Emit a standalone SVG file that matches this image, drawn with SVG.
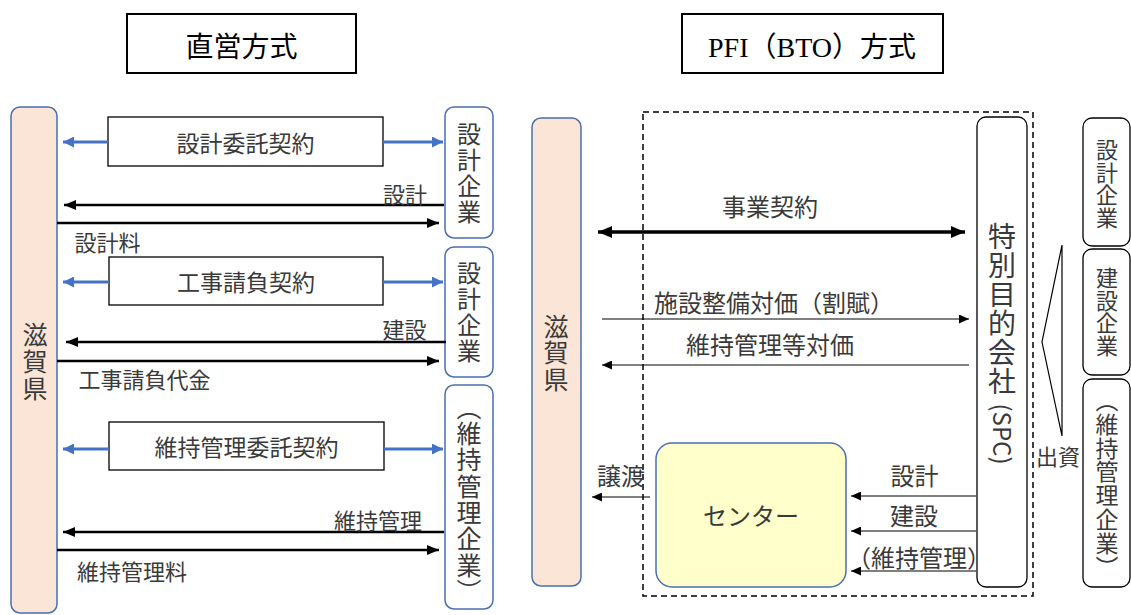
<svg xmlns="http://www.w3.org/2000/svg" width="1131" height="615" viewBox="0 0 1131 615">
<style>
text{font-family:"Noto Sans CJK JP","Noto Sans",sans-serif;fill:#3a3a3a;dominant-baseline:central}
.c{text-anchor:middle}
.v{writing-mode:vertical-rl;text-anchor:middle}
.title{font-family:"Liberation Serif","Noto Sans CJK JP",serif;font-size:28px;fill:#000;text-anchor:middle}
.tbox{fill:#fff;stroke:#000;stroke-width:2}
.pref{fill:#FBE5D6;stroke:#4A6FB0;stroke-width:1.5}
.bnode{fill:#fff;stroke:#4A6FB0;stroke-width:1.5}
.knode{fill:#fff;stroke:#000;stroke-width:1.3}
.cbox{fill:#fff;stroke:#000;stroke-width:1.3}
.center{fill:#FFFFCC;stroke:#4A6FB0;stroke-width:1.5}
.blue{stroke:#4472C4;stroke-width:3;fill:none}
.blk{stroke:#000;stroke-width:2.5;fill:none}
.thin{stroke:#000;stroke-width:1;fill:none}
.thick{stroke:#000;stroke-width:3.5;fill:none}
.dash{fill:none;stroke:#000;stroke-width:1.5;stroke-dasharray:6 4}
</style>
<defs>
<marker id="mB" markerUnits="userSpaceOnUse" markerWidth="11" markerHeight="11" refX="11" refY="5.5" orient="auto"><path d="M0,0 L11,5.5 L0,11 z" fill="#4472C4"/></marker>
<marker id="mK" markerUnits="userSpaceOnUse" markerWidth="12" markerHeight="10" refX="12" refY="5" orient="auto"><path d="M0,0 L12,5 L0,10 z" fill="#000"/></marker>
<marker id="mT" markerUnits="userSpaceOnUse" markerWidth="10" markerHeight="9" refX="10" refY="4.5" orient="auto"><path d="M0,0 L10,4.5 L0,9 z" fill="#000"/></marker>
<marker id="mH" markerUnits="userSpaceOnUse" markerWidth="14" markerHeight="12" refX="14" refY="6" orient="auto-start-reverse"><path d="M0,0 L14,6 L0,12 z" fill="#000"/></marker>
</defs>

<g id="title-direct"><rect class="tbox" x="127" y="14" width="229" height="59"/><text class="title" x="241.5" y="47">直営方式</text></g>
<g id="title-pfi"><rect class="tbox" x="682" y="14" width="261" height="59"/><text class="title" x="812" y="47">PFI（BTO）方式</text></g>

<!-- Left: direct method -->
<g id="shiga-left"><rect class="pref" x="11" y="107" width="46" height="506" rx="9"/>
<text class="v" x="35" y="362" font-size="25" letter-spacing="2">滋賀県</text></g>

<g id="design-co-1"><rect class="bnode" x="445" y="107" width="48" height="131" rx="9"/>
<text class="v" x="469" y="174" font-size="24" letter-spacing="2">設計企業</text></g>

<g id="design-co-2"><rect class="bnode" x="445" y="247" width="48" height="130" rx="9"/>
<text class="v" x="469" y="313" font-size="24" letter-spacing="2">設計企業</text></g>

<g id="maint-co-left"><rect class="bnode" x="445" y="385" width="48" height="224" rx="9"/>
<text class="v" x="469" y="500" font-size="25" letter-spacing="1.3">（維持管理企業）</text></g>

<g id="contract-design"><rect class="cbox" x="108" y="117" width="275" height="49"/><text class="c" x="245.5" y="141.5" font-size="23">設計委託契約</text></g>
<g id="contract-construct"><rect class="cbox" x="109" y="257" width="274" height="48"/><text class="c" x="246" y="281" font-size="23">工事請負契約</text></g>
<g id="contract-maint"><rect class="cbox" x="109" y="422" width="275" height="48"/><text class="c" x="246.5" y="446" font-size="23">維持管理委託契約</text></g>

<!-- Right: PFI -->
<g id="spc-frame"><rect class="dash" x="643" y="112" width="390" height="484"/></g>

<g id="shiga-right"><rect class="pref" x="532" y="118" width="49" height="468" rx="9"/>
<text class="v" x="556" y="353.5" font-size="25" letter-spacing="1.5">滋賀県</text></g>

<g id="spc"><rect class="knode" x="977" y="117" width="50" height="470" rx="9"/>
<text class="v" x="1002" y="309" font-size="28" letter-spacing="1">特別目的会社</text>
<text class="c" x="1003" y="434" font-size="24" transform="rotate(90 1003 434)">(SPC)</text></g>

<g id="center"><rect class="center" x="656" y="443" width="190" height="144" rx="16"/><text class="c" x="751" y="514" font-size="24">センター</text></g>

<g id="design-co-r"><rect class="knode" x="1083" y="118" width="47" height="128" rx="9"/>
<text class="v" x="1107" y="184" font-size="22" letter-spacing="0.5">設計企業</text></g>
<g id="construct-co-r"><rect class="knode" x="1083" y="249" width="47" height="126" rx="9"/>
<text class="v" x="1107" y="312" font-size="22" letter-spacing="0.5">建設企業</text></g>
<g id="maint-co-r"><rect class="knode" x="1083" y="379" width="47" height="208" rx="9"/>
<text class="v" x="1107" y="484" font-size="23" letter-spacing="0.8">（維持管理企業）</text></g>

<g id="connectors">
<line class="blue" x1="108" y1="142" x2="63" y2="142" marker-end="url(#mB)"/>
<line class="blue" x1="383" y1="142" x2="443" y2="142" marker-end="url(#mB)"/>
<line class="blue" x1="109" y1="282" x2="63" y2="282" marker-end="url(#mB)"/>
<line class="blue" x1="383" y1="282" x2="443" y2="282" marker-end="url(#mB)"/>
<line class="blue" x1="109" y1="449" x2="63" y2="449" marker-end="url(#mB)"/>
<line class="blue" x1="384" y1="449" x2="443" y2="449" marker-end="url(#mB)"/>

<line class="blk" x1="444" y1="205" x2="64" y2="205" marker-end="url(#mK)"/>
<line class="blk" x1="57" y1="223" x2="439" y2="223" marker-end="url(#mK)"/>
<line class="blk" x1="446" y1="342" x2="66" y2="342" marker-end="url(#mK)"/>
<line class="blk" x1="57" y1="361" x2="439" y2="361" marker-end="url(#mK)"/>
<line class="blk" x1="444" y1="532" x2="63" y2="532" marker-end="url(#mK)"/>
<line class="blk" x1="57" y1="550" x2="439" y2="550" marker-end="url(#mK)"/>

<line class="thick" x1="598" y1="232" x2="965" y2="232" marker-start="url(#mH)" marker-end="url(#mH)"/>
<line class="thin" x1="602" y1="319" x2="969" y2="319" marker-end="url(#mT)"/>
<line class="thin" x1="969" y1="365" x2="602" y2="365" marker-end="url(#mT)"/>
<line class="thin" x1="650" y1="497" x2="592" y2="497" marker-end="url(#mT)"/>
<line class="thin" x1="976" y1="496" x2="851" y2="496" marker-end="url(#mT)"/>
<line class="thin" x1="976" y1="531" x2="851" y2="531" marker-end="url(#mT)"/>
<line class="thin" x1="976" y1="571" x2="851" y2="571" marker-end="url(#mT)"/>
<polygon points="1062,245 1042,342 1062,436" fill="none" stroke="#000" stroke-width="1.2"/>
</g>

<g id="labels">
<text class="c" x="405" y="193" font-size="22">設計</text>
<text class="c" x="107.5" y="241" font-size="22">設計料</text>
<text class="c" x="404.5" y="328" font-size="22">建設</text>
<text class="c" x="144.5" y="377.5" font-size="22">工事請負代金</text>
<text class="c" x="378" y="519" font-size="22">維持管理</text>
<text class="c" x="132" y="570" font-size="22">維持管理料</text>

<text class="c" x="770" y="205" font-size="24">事業契約</text>
<text x="654" y="301" font-size="24">施設整備対価（割賦）</text>
<text x="686" y="343" font-size="24">維持管理等対価</text>
<text class="c" x="621" y="474" font-size="24">譲渡</text>
<text class="c" x="914.5" y="474" font-size="24">設計</text>
<text class="c" x="914" y="514" font-size="24">建設</text>
<text x="847" y="556" font-size="24">（維持管理）</text>
<text class="c" x="1058" y="455" font-size="22">出資</text>
</g>
</svg>
